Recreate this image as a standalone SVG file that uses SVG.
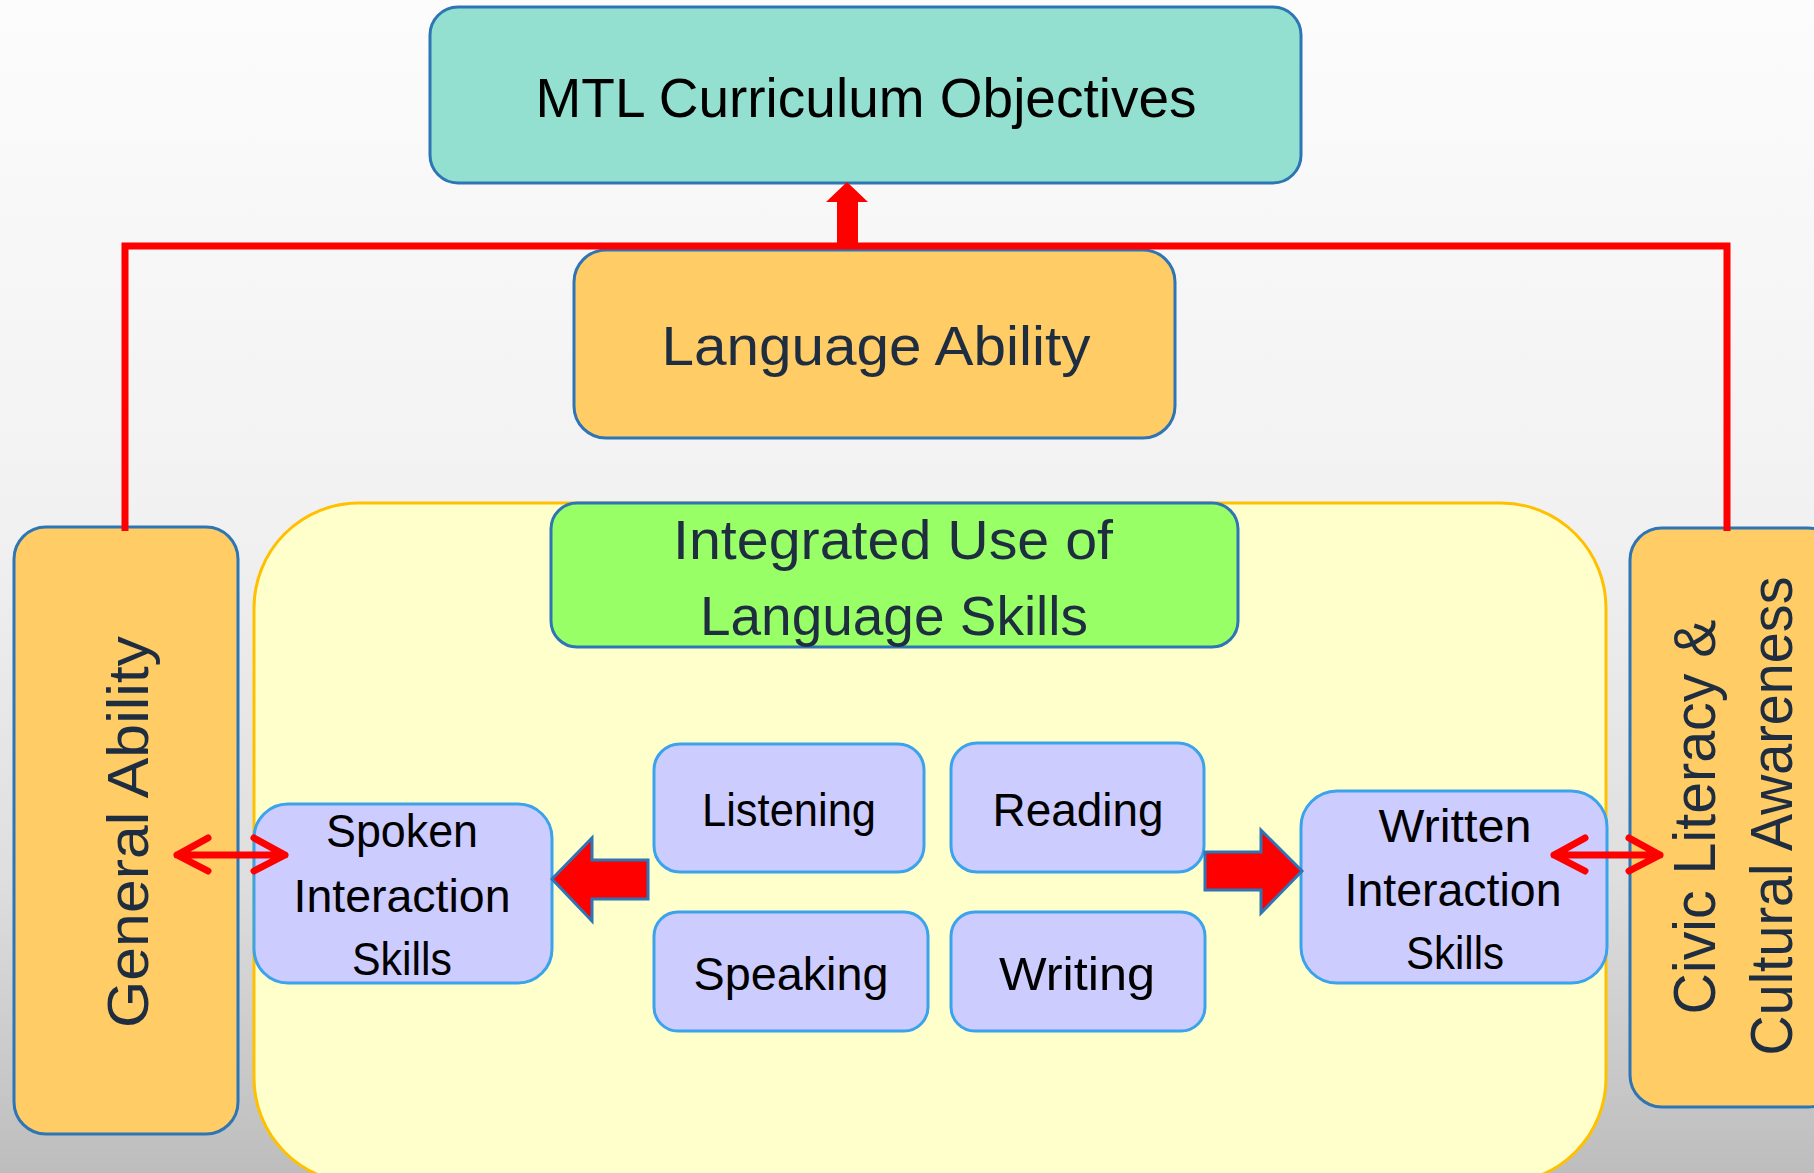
<svg xmlns="http://www.w3.org/2000/svg" width="1814" height="1173" viewBox="0 0 1814 1173">
<defs>
<linearGradient id="bg" x1="0" y1="0" x2="0" y2="1">
<stop offset="0" stop-color="#fcfcfc"/>
<stop offset="0.45" stop-color="#f1f1f1"/>
<stop offset="0.75" stop-color="#dedede"/>
<stop offset="1" stop-color="#bdbdbd"/>
</linearGradient>
<style>
.main{stroke:#2E75B6;stroke-width:3}
.skill{fill:#CCCCFF;stroke:#3BA3EC;stroke-width:3}
.t{font-family:"Liberation Sans",Arial,sans-serif;text-anchor:middle}
.navy{fill:#1F2D40}
.blk{fill:#000}
.red{stroke:#FF0000;fill:none}
.dbl{stroke:#FF0000;stroke-width:7;fill:none;stroke-linecap:round;stroke-linejoin:round}
.blockarrow{fill:#FF0000;stroke:#2E75B6;stroke-width:3}
</style>
</defs>
<rect x="0" y="0" width="1814" height="1173" fill="url(#bg)"/>

<g id="container">
<rect x="254" y="503" width="1352" height="680" rx="105" fill="#FFFFCC" stroke="#FFC000" stroke-width="3"/>
</g>

<g id="mtl-objectives">
<rect class="main" x="430" y="7" width="871" height="176" rx="28" fill="#93E0D0"/>
<text class="t blk" x="866" y="117" font-size="56" textLength="661" lengthAdjust="spacingAndGlyphs">MTL Curriculum Objectives</text>
</g>

<g id="language-ability">
<rect class="main" x="574" y="250" width="601" height="188" rx="32" fill="#FFCC66"/>
<text class="t navy" x="876" y="365" font-size="55" textLength="429" lengthAdjust="spacingAndGlyphs">Language Ability</text>
</g>

<g id="integrated-use">
<rect class="main" x="551" y="503" width="687" height="144" rx="26" fill="#99FF66"/>
<text class="t navy" x="893" y="559" font-size="55" textLength="440" lengthAdjust="spacingAndGlyphs">Integrated Use of</text>
<text class="t navy" x="894" y="635" font-size="55" textLength="388" lengthAdjust="spacingAndGlyphs">Language Skills</text>
</g>

<g id="general-ability">
<rect class="main" x="14" y="527" width="224" height="607" rx="32" fill="#FFCC66"/>
<text class="t navy" transform="translate(148,832) rotate(-90)" x="0" y="0" font-size="57" textLength="392" lengthAdjust="spacingAndGlyphs">General Ability</text>
</g>

<g id="civic-literacy">
<rect class="main" x="1630" y="528" width="210" height="579" rx="32" fill="#FFCC66"/>
<text class="t navy" transform="translate(1715,817) rotate(-90)" x="0" y="0" font-size="60" textLength="395" lengthAdjust="spacingAndGlyphs">Civic Literacy &amp;</text>
<text class="t navy" transform="translate(1792,816) rotate(-90)" x="0" y="0" font-size="60" textLength="479" lengthAdjust="spacingAndGlyphs">Cultural Awareness</text>
</g>

<g id="listening">
<rect class="skill" x="654" y="744" width="270" height="128" rx="26"/>
<text class="t blk" x="789" y="826" font-size="46" textLength="174" lengthAdjust="spacingAndGlyphs">Listening</text>
</g>

<g id="reading">
<rect class="skill" x="951" y="743" width="253" height="129" rx="26"/>
<text class="t blk" x="1078" y="826" font-size="46" textLength="171" lengthAdjust="spacingAndGlyphs">Reading</text>
</g>

<g id="speaking">
<rect class="skill" x="654" y="912" width="274" height="119" rx="24"/>
<text class="t blk" x="791" y="990" font-size="46" textLength="195" lengthAdjust="spacingAndGlyphs">Speaking</text>
</g>

<g id="writing">
<rect class="skill" x="951" y="912" width="254" height="119" rx="24"/>
<text class="t blk" x="1077" y="990" font-size="46" textLength="156" lengthAdjust="spacingAndGlyphs">Writing</text>
</g>

<g id="spoken-interaction">
<rect class="skill" x="254" y="804" width="298" height="179" rx="34"/>
<text class="t blk" x="402" y="847" font-size="46" textLength="152" lengthAdjust="spacingAndGlyphs">Spoken</text>
<text class="t blk" x="402" y="912" font-size="46" textLength="217" lengthAdjust="spacingAndGlyphs">Interaction</text>
<text class="t blk" x="402" y="975" font-size="46" textLength="100" lengthAdjust="spacingAndGlyphs">Skills</text>
</g>

<g id="written-interaction">
<rect class="skill" x="1301" y="791" width="306" height="192" rx="36"/>
<text class="t blk" x="1455" y="842" font-size="46" textLength="153" lengthAdjust="spacingAndGlyphs">Written</text>
<text class="t blk" x="1453" y="906" font-size="46" textLength="217" lengthAdjust="spacingAndGlyphs">Interaction</text>
<text class="t blk" x="1455" y="969" font-size="46" textLength="98" lengthAdjust="spacingAndGlyphs">Skills</text>
</g>

<g id="connectors">
<path class="red" stroke-width="7" d="M125 531 V246 H1727 V531"/>
<polygon fill="#FF0000" points="837,249 837,202 826,202 847,182 868,202 858,202 858,249"/>
<polygon class="blockarrow" points="552,879 592,838 592,860 648,860 648,899 592,899 592,921"/>
<polygon class="blockarrow" points="1302,871 1261,830 1261,852 1205,852 1205,890 1261,890 1261,913"/>
<path class="dbl" d="M177 855 H285 M208 838 L177 855 L208 871 M254 838 L285 855 L254 871"/>
<path class="dbl" d="M1554 855 H1660 M1585 838 L1554 855 L1585 871 M1629 838 L1660 855 L1629 871"/>
</g>
</svg>
